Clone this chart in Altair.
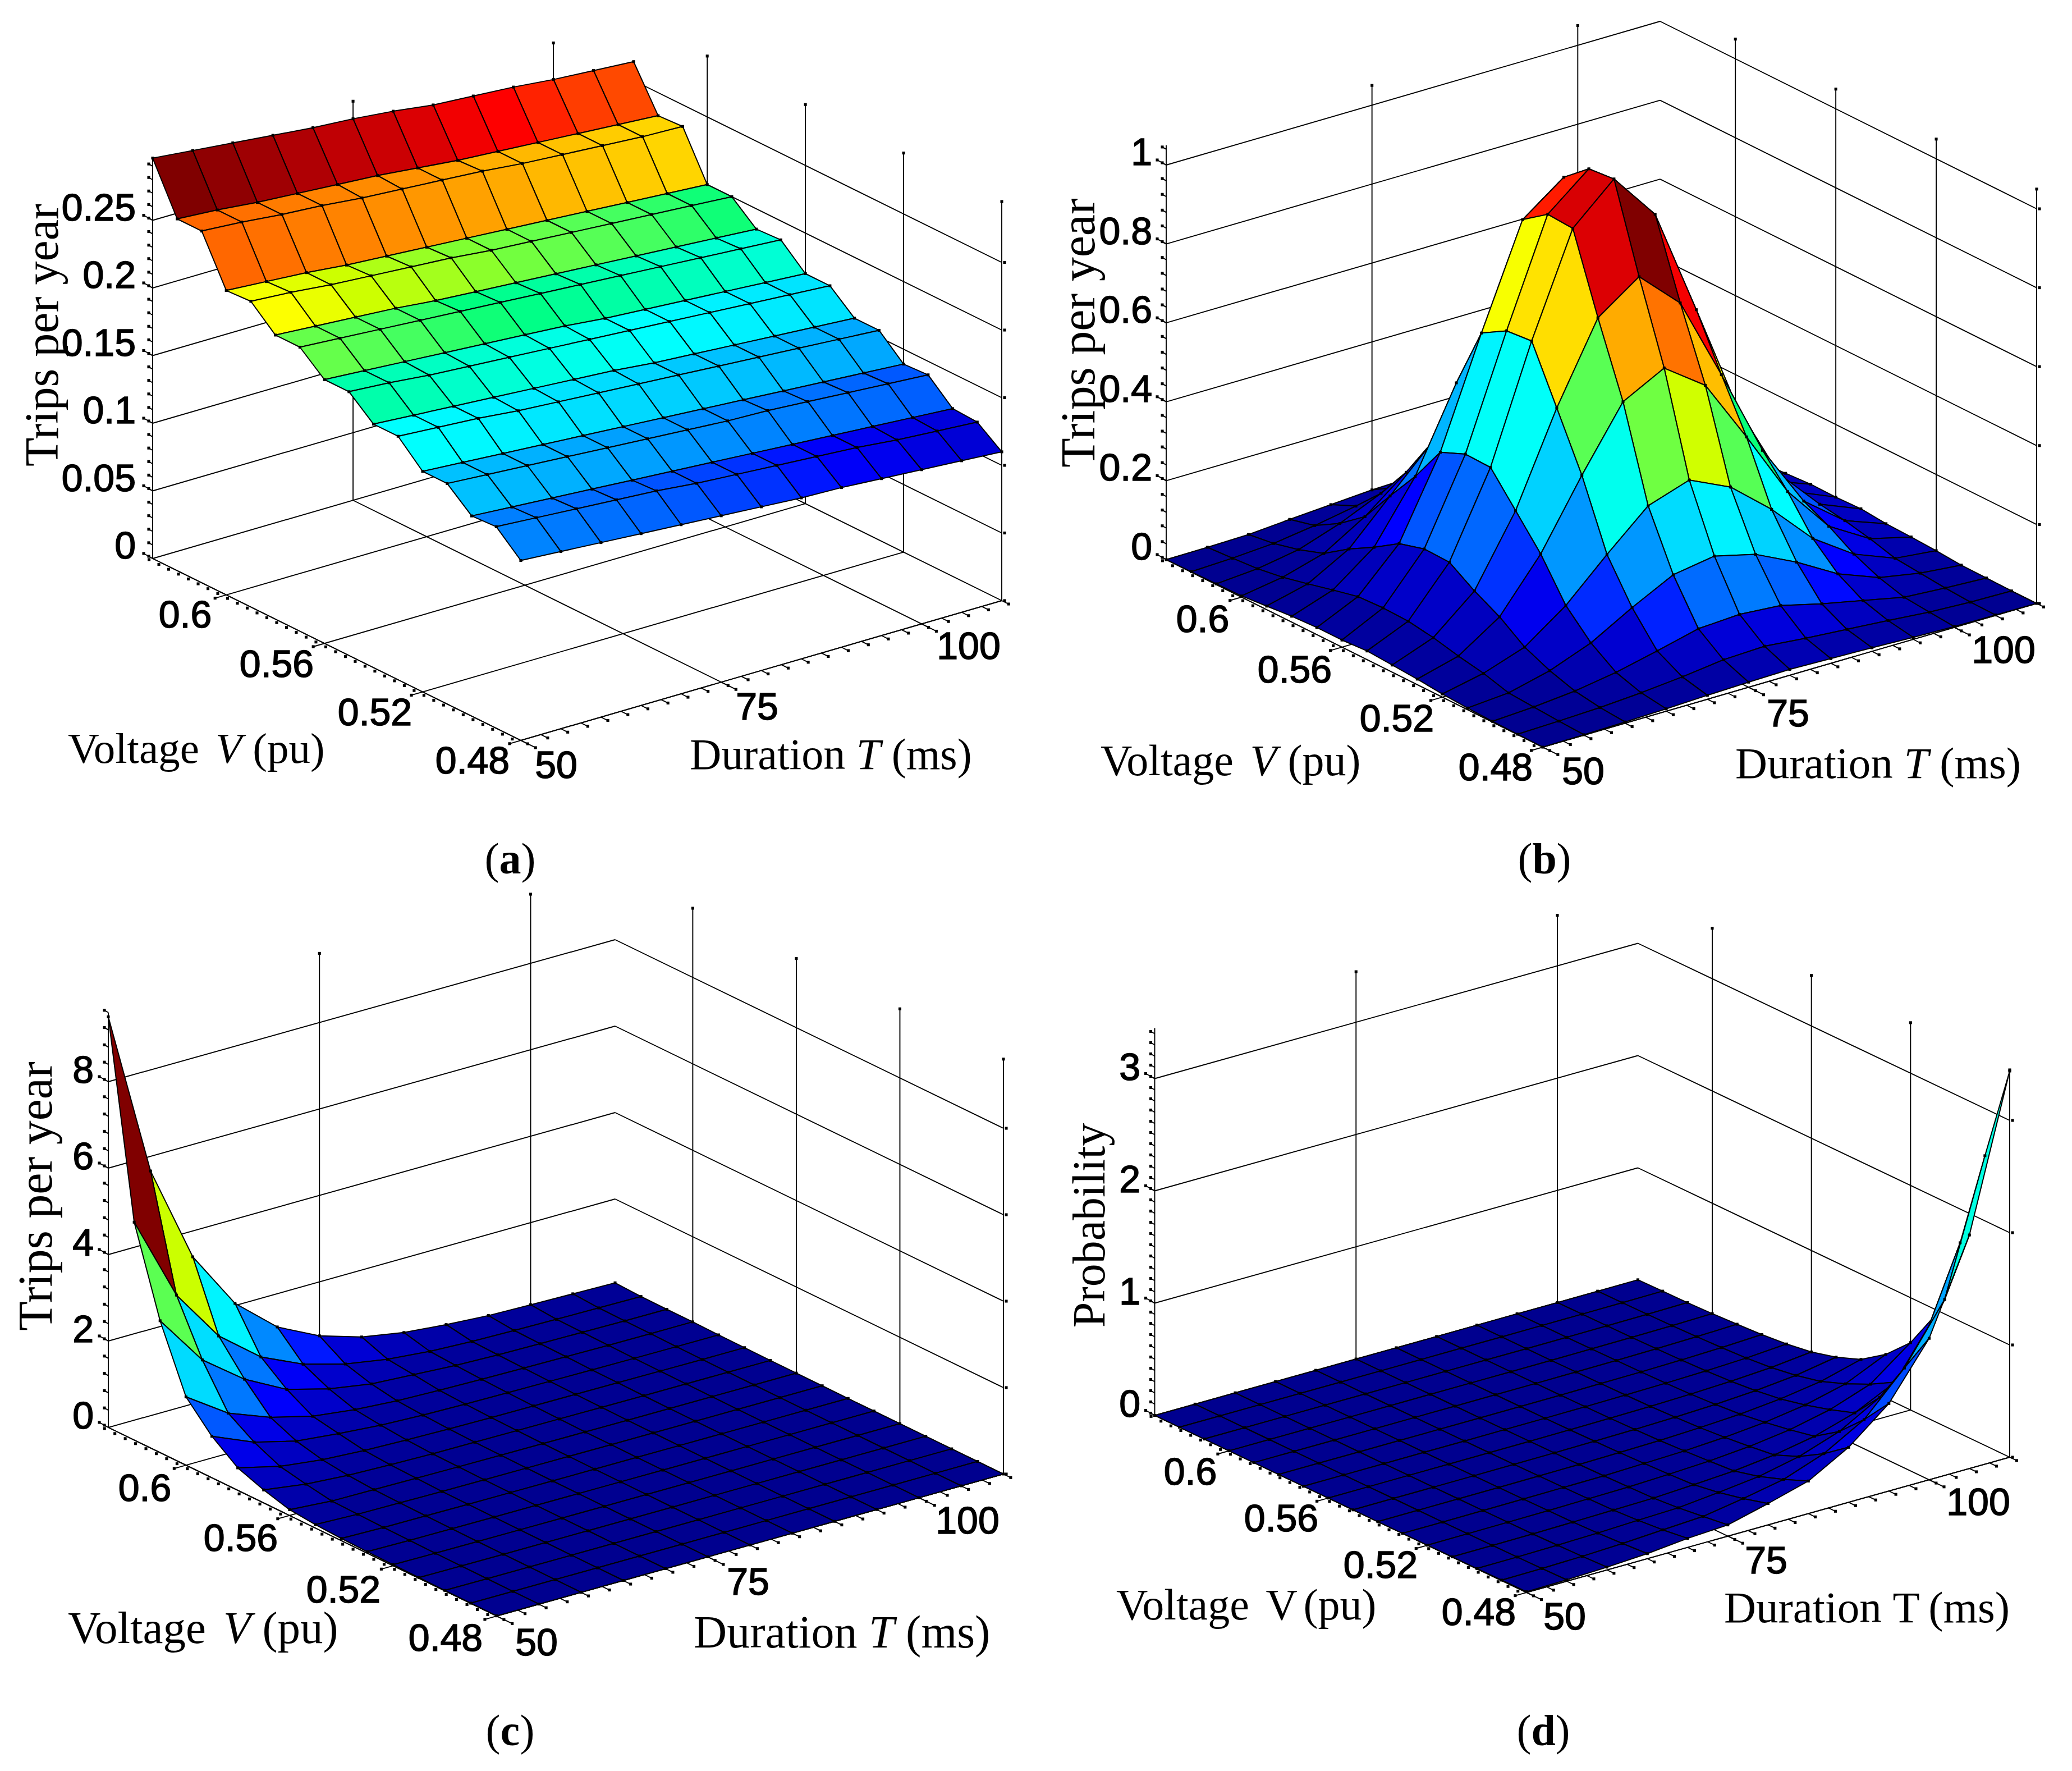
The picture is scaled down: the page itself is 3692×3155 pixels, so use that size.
import altair as alt
import pandas as pd

alt.data_transformers.disable_max_rows()

# ---- surface values: rows V = 0.63 ... 0.48, columns T = 50, 55, ... 110
V_GRID = [0.63, 0.62, 0.61, 0.60, 0.59, 0.58, 0.57, 0.56, 0.55, 0.54, 0.53, 0.52, 0.51, 0.50, 0.49, 0.48]
T_GRID = [50, 55, 60, 65, 70, 75, 80, 85, 90, 95, 100, 105, 110]

Z_A = [
    [.296, .293, .290, .287, .284, .282, .279, .275, .273, .271, .268, .266, .264],
    [.260, .258, .255, .253, .251, .249, .246, .243, .241, .239, .237, .235, .233],
    [.260, .258, .255, .253, .250, .248, .246, .244, .241, .239, .237, .235, .234],
    [.225, .223, .221, .218, .216, .214, .212, .210, .208, .206, .204, .202, .200],
    [.226, .224, .221, .219, .217, .215, .212, .210, .208, .206, .204, .202, .200],
    [.210, .208, .206, .204, .201, .199, .197, .195, .193, .191, .189, .187, .185],
    [.210, .208, .206, .204, .202, .200, .198, .196, .194, .192, .190, .188, .186],
    [.195, .193, .191, .189, .187, .185, .183, .180, .178, .176, .174, .172, .170],
    [.195, .193, .190, .188, .186, .184, .182, .180, .178, .176, .174, .172, .170],
    [.180, .178, .176, .174, .172, .170, .168, .165, .163, .161, .159, .157, .155],
    [.180, .178, .176, .173, .171, .169, .167, .165, .163, .161, .159, .157, .155],
    [.163, .161, .159, .157, .155, .153, .151, .149, .147, .145, .143, .141, .139],
    [.163, .161, .159, .157, .155, .153, .151, .149, .148, .146, .144, .142, .140],
    [.148, .146, .144, .142, .140, .138, .136, .134, .132, .130, .128, .126, .124],
    [.149, .147, .145, .143, .141, .138, .136, .134, .132, .130, .127, .125, .123],
    [.133, .131, .129, .127, .125, .123, .121, .119, .118, .116, .114, .112, .110],
]
Z_B = [
    [.000, .001, .003, .011, .018, .025, .028, .025, .018, .010, .005, .002, .000],
    [.001, .005, .012, .027, .046, .063, .070, .062, .044, .025, .011, .004, .001],
    [.002, .010, .028, .064, .110, .150, .166, .146, .103, .059, .027, .010, .003],
    [.003, .020, .050, .113, .195, .268, .296, .260, .183, .104, .048, .017, .005],
    [.009, .035, .093, .197, .300, .470, .520, .458, .320, .183, .084, .030, .009],
    [.015, .051, .129, .278, .485, .600, .727, .640, .450, .256, .118, .042, .013],
    [.018, .066, .170, .371, .643, .900, .977, .860, .600, .343, .157, .056, .017],
    [.018, .069, .188, .398, .680, .945, 1.030, .915, .640, .366, .168, .060, .016],
    [.022, .067, .186, .396, .686, .941, 1.036, .916, .644, .366, .168, .060, .018],
    [.018, .057, .145, .318, .548, .746, .820, .723, .511, .289, .130, .050, .012],
    [.014, .042, .111, .240, .409, .565, .620, .546, .385, .216, .098, .036, .010],
    [.008, .030, .066, .141, .240, .333, .368, .320, .233, .129, .059, .018, .007],
    [.004, .012, .038, .078, .137, .190, .207, .181, .131, .071, .031, .012, .002],
    [.002, .008, .018, .035, .059, .085, .091, .083, .057, .035, .013, .006, .001],
    [.001, .004, .008, .015, .025, .038, .042, .032, .024, .016, .007, .002, .000],
    [.000, .001, .003, .006, .010, .013, .015, .012, .009, .005, .002, .001, .000],
]
Z_C = [
    [9.5, 5.66, 3.4, 2.05, 1.23, .75, .45, .28, .19, .125, .10, .08, .06],
    [5.04, 3.08, 1.86, 1.10, .66, .39, .225, .134, .09, .07, .055, .045, .035],
    [3.05, 1.87, 1.15, .64, .38, .22, .16, .10, .07, .055, .045, .035, .03],
    [1.58, .93, .56, .31, .19, .12, .09, .07, .055, .045, .035, .03, .03],
    [.96, .55, .30, .20, .12, .08, .06, .05, .04, .03, .025, .02, .02],
    [.52, .28, .16, .10, .07, .05, .04, .035, .03, .025, .02, .015, .015],
    [.30, .16, .09, .06, .04, .035, .03, .025, .02, .015, .015, .012, .01],
    [.135, .06, .05, .04, .03, .025, .02, .015, .012, .01, .01, .008, .008],
    [.08, .045, .035, .025, .02, .018, .015, .012, .01, .008, .007, .006, .006],
    [.05, .03, .025, .018, .015, .012, .01, .009, .007, .006, .005, .005, .004],
    [.035, .022, .018, .014, .011, .009, .008, .006, .005, .005, .004, .004, .003],
    [.025, .016, .013, .01, .008, .007, .006, .005, .004, .004, .003, .003, .003],
    [.018, .012, .009, .007, .006, .005, .004, .004, .003, .003, .002, .002, .002],
    [.012, .008, .007, .005, .004, .004, .003, .003, .002, .002, .002, .002, .001],
    [.008, .006, .005, .004, .003, .003, .002, .002, .002, .001, .001, .001, .001],
    [.005, .004, .003, .003, .002, .002, .002, .001, .001, .001, .001, .001, .001],
]
Z_D = [
    [0, 0, 0, 0, 0, 0, 0, 0, .001, .001, .001, .002, .003],
    [0, 0, 0, 0, 0, 0, 0, .001, .001, .002, .003, .004, .007],
    [0, 0, 0, 0, 0, 0, .001, .001, .001, .002, .004, .006, .010],
    [0, 0, 0, 0, 0, .001, .001, .001, .002, .004, .006, .010, .017],
    [0, 0, 0, 0, .001, .001, .002, .002, .004, .006, .010, .017, .028],
    [0, 0, 0, .001, .001, .001, .002, .003, .006, .009, .015, .025, .041],
    [0, 0, 0, .001, .001, .002, .003, .005, .009, .014, .023, .037, .062],
    [0, 0, .001, .001, .002, .003, .005, .008, .013, .022, .036, .058, .096],
    [0, .001, .001, .002, .003, .005, .009, .013, .022, .035, .057, .093, .155],
    [0, .001, .002, .003, .005, .007, .013, .020, .034, .054, .089, .144, .240],
    [.001, .001, .003, .005, .008, .011, .021, .032, .053, .086, .140, .228, .390],
    [.001, .002, .004, .007, .012, .017, .030, .047, .077, .125, .204, .330, .600],
    [.002, .003, .005, .010, .017, .023, .042, .064, .106, .172, .280, .454, .950],
    [.003, .005, .010, .018, .031, .042, .078, .120, .197, .320, .522, .846, 1.70],
    [.005, .008, .016, .030, .051, .070, .129, .199, .328, .531, .890, 1.40, 2.58],
    [.007, .012, .025, .045, .080, .100, .190, .290, .490, .780, 1.26, 2.08, 3.44],
]

V_TICKS = [0.6, 0.56, 0.52, 0.48]
T_TICKS = [50, 75, 100]
V_TICK_LABELS = ["0.6", "0.56", "0.52", "0.48"]
T_TICK_LABELS = ["50", "75", "100"]

STOPS = [0, .125, .375, .44, .5, .56, .625, .75, .875, 1]
JET = ["#00008f", "#0000ff", "#00ffff", "#00ffbe", "#1eff6e", "#80ff30", "#ffff00", "#ff9000", "#ff0000", "#800000"]

PANELS = [
    dict(name="a", Z=Z_A, L=(272, 995), B=(928, 1319), R=(1785, 1070), unit=2410,
         zt=[0, .05, .1, .15, .2, .25], zl=["0", "0.05", "0.1", "0.15", "0.2", "0.25"], zminor=.01, ztop=.295,
         zlab_x=242, zlab_dy=-20,
         vlab=[(330, 1098), (493, 1186), (668, 1272), (842, 1358)],
         tlab=[(991, 1366), (1349, 1262), (1726, 1154)],
         ylabel="Trips per year", ylab=(78, 597), yfs=84,
         vt=(121, 1359, 77, True), dt=(1229, 1370, 78, True), cap=(909, 1556)),
    dict(name="b", Z=Z_B, L=(2078, 997), B=(2749, 1331), R=(3629, 1075), unit=703,
         zt=[0, .2, .4, .6, .8, 1], zl=["0", "0.2", "0.4", "0.6", "0.8", "1"], zminor=.04, ztop=1.05,
         zlab_x=2053, zlab_dy=-20,
         vlab=[(2143, 1106), (2307, 1196), (2489, 1283), (2665, 1370)],
         tlab=[(2821, 1377), (3186, 1274), (3570, 1161)],
         ylabel="Trips per year", ylab=(1924, 593), yfs=86,
         vt=(1961, 1381, 78, True), dt=(3092, 1386, 79, True), cap=(2752, 1556)),
    dict(name="c", Z=Z_C, L=(193, 2543), B=(885, 2879), R=(1788, 2626), unit=77,
         zt=[0, 2, 4, 6, 8], zl=["0", "2", "4", "6", "8"], zminor=.4, ztop=9.6,
         zlab_x=167, zlab_dy=-18,
         vlab=[(258, 2654), (429, 2743), (612, 2835), (794, 2921)],
         tlab=[(956, 2929), (1333, 2821), (1724, 2712)],
         ylabel="Trips per year", ylab=(66, 2131), yfs=86,
         vt=(121, 2927, 81, True), dt=(1236, 2935, 82, True), cap=(909, 3109)),
    dict(name="d", Z=Z_D, L=(2057.5, 2521.5), B=(2720, 2837), R=(3581, 2596), unit=200,
         zt=[0, 1, 2, 3], zl=["0", "1", "2", "3"], zminor=.1, ztop=3.45,
         zlab_x=2032, zlab_dy=-18,
         vlab=[(2121, 2625), (2283, 2708), (2460, 2791), (2635, 2875)],
         tlab=[(2788, 2883), (3147, 2783), (3525, 2679)],
         ylabel="Probability", ylab=(1943, 2183), yfs=82,
         vt=(1989, 2885, 78, False), dt=(3072, 2890, 79, False), cap=(2750, 3109)),
]

polys, segs, dots = [], [], []
sans, serif, serif_i, serif_b, serif_r = [], [], [], [], []
pid = [0]


def add_seg(p, q):
    pid[0] += 1
    segs.append(dict(id=pid[0], k=0, x=p[0] - 8, y=p[1] - 8))
    segs.append(dict(id=pid[0], k=1, x=q[0] - 8, y=q[1] - 8))


def add_dot(p):
    dots.append(dict(x=p[0] - 8, y=p[1] - 8))


def in_quad(p, q):
    inside = False
    for a in range(4):
        x1, y1 = q[a]
        x2, y2 = q[(a + 1) % 4]
        if (y1 > p[1]) != (y2 > p[1]) and p[0] < x1 + (p[1] - y1) * (x2 - x1) / (y2 - y1):
            inside = not inside
    return inside


for P in PANELS:
    L, B, R, unit = P["L"], P["B"], P["R"], P["unit"]
    Vx, Vy = B[0] - L[0], B[1] - L[1]
    Tx, Ty = R[0] - B[0], R[1] - B[1]

    def proj(v, t, z=0):
        a, b = (0.63 - v) / 0.15, (t - 50) / 60
        return (L[0] + a * Vx + b * Tx, L[1] + a * Vy + b * Ty - z * unit)

    ztop = P["ztop"]
    for v in V_TICKS:
        add_seg(proj(v, 50 - 1.4), proj(v, 110))
        add_dot(proj(v, 50 - 1.4))
    for t in T_TICKS:
        add_seg(proj(0.63, t), proj(0.48 - 0.006, t))
        add_dot(proj(0.48 - 0.006, t))
    for t in T_TICKS[1:]:
        add_seg(proj(0.63, t), proj(0.63, t, ztop))
        add_dot(proj(0.63, t, ztop))
    for v in V_TICKS[:-1]:
        add_seg(proj(v, 110), proj(v, 110, ztop))
        add_dot(proj(v, 110, ztop))
    add_seg(proj(0.63, 50), proj(0.48, 50))
    add_seg(proj(0.48, 50), proj(0.48, 110))
    add_seg(proj(0.63, 50), proj(0.63, 50, ztop))
    add_seg(proj(0.48, 110), proj(0.48, 110, ztop))
    add_dot(proj(0.48, 110, ztop))
    for z in P["zt"]:
        add_seg(proj(0.63, 50, z), proj(0.63, 110, z))
        add_seg(proj(0.63, 110, z), proj(0.48, 110, z))
        a = proj(0.63, 50, z)
        e = (a[0] - 16, a[1] - 9)
        add_seg(a, e)
        add_dot(e)
        add_dot((proj(0.48, 110, z)[0] + 5, proj(0.48, 110, z)[1]))
    n = int(round(ztop / P["zminor"]))
    for q in range(n + 1):
        a = proj(0.63, 50, q * P["zminor"])
        add_seg(a, (a[0] - 7, a[1] - 4))
        add_dot((a[0] - 7, a[1] - 4))
    for q in range(38):
        v = 0.63 - q * 0.004
        a = proj(v, 50 - 0.45)
        add_dot(a)
    for q in range(25):
        t = 50 + q * 2.5
        a = proj(0.48 - 0.0028, t)
        add_seg(proj(0.48, t), a)
        add_dot(a)

    Z = P["Z"]
    flat = [z for row in Z for z in row]
    zmin, zmax = min(flat), max(flat)
    cells = []
    for i in range(15):
        for j in range(12):
            corners = [(i, j), (i, j + 1), (i + 1, j + 1), (i + 1, j)]
            pts = [proj(V_GRID[a], T_GRID[b], Z[a][b]) for a, b in corners]
            depth = proj(V_GRID[i] - .005, T_GRID[j] + 2.5)[1]
            cells.append((depth, i, j, corners, pts))
    cells.sort(key=lambda c: c[0])
    for order, (depth, i, j, corners, pts) in enumerate(cells):
        pid[0] += 1
        c = (Z[i][j] - zmin) / (zmax - zmin)
        for k, p in enumerate(pts):
            polys.append(dict(id=pid[0], k=k, x=p[0] - 8, y=p[1] - 8, c=c))
    for a in range(16):
        for b in range(13):
            p = proj(V_GRID[a], T_GRID[b], Z[a][b])
            hidden = False
            for (depth, i, j, corners, pts) in cells:
                if (a, b) in corners:
                    continue
                if depth > proj(V_GRID[a], T_GRID[b])[1] and in_quad(p, pts):
                    hidden = True
                    break
            if not hidden:
                add_dot(p)

    for z, lab in zip(P["zt"], P["zl"]):
        sans.append(dict(x=P["zlab_x"] - 8, y=proj(0.63, 50, z)[1] + P["zlab_dy"] - 8, t=lab, a="right", fs=68))
    for (x, y), lab in zip(P["vlab"], V_TICK_LABELS):
        sans.append(dict(x=x - 8, y=y - 8, t=lab, a="center", fs=68))
    for (x, y), lab in zip(P["tlab"], T_TICK_LABELS):
        sans.append(dict(x=x - 8, y=y - 8, t=lab, a="center", fs=68))
    serif_r.append(dict(x=P["ylab"][0] - 8, y=P["ylab"][1] - 8, t=P["ylabel"], fs=P["yfs"]))

    x0, y0, fs, ital = P["vt"]
    serif.append(dict(x=x0 - 8, y=y0 - 8, t="Voltage", fs=fs))
    (serif_i if ital else serif).append(dict(x=x0 + 3.416 * fs - 8, y=y0 - 8, t="V", fs=fs))
    serif.append(dict(x=x0 + 4.277 * fs - 8, y=y0 - 8, t="(pu)", fs=fs))
    x0, y0, fs, ital = P["dt"]
    serif.append(dict(x=x0 - 8, y=y0 - 8, t="Duration", fs=fs))
    (serif_i if ital else serif).append(dict(x=x0 + 3.805 * fs - 8, y=y0 - 8, t="T", fs=fs))
    serif.append(dict(x=x0 + 4.611 * fs - 8, y=y0 - 8, t="(ms)", fs=fs))
    cx, cy = P["cap"]
    w = {"a": 39, "b": 43, "c": 35, "d": 43}[P["name"]]
    serif.append(dict(x=cx - w / 2 - 26 - 8, y=cy - 8, t="(", fs=78))
    serif_b.append(dict(x=cx - w / 2 - 8, y=cy - 8, t=P["name"], fs=78))
    serif.append(dict(x=cx + w / 2 - 8, y=cy - 8, t=")", fs=78))

W, H = 3676, 3139
X = alt.X("x:Q", scale=alt.Scale(domain=[0, W], nice=False, zero=False), axis=None)
Y = alt.Y("y:Q", scale=alt.Scale(domain=[H, 0], nice=False, zero=False), axis=None)

grid = alt.Chart(pd.DataFrame(segs)).mark_line(stroke="black", strokeWidth=1.9).encode(
    x=X, y=Y, detail="id:N", order="k:Q")
surf = alt.Chart(pd.DataFrame(polys)).mark_line(
    interpolate="linear-closed", stroke="black", strokeWidth=2, strokeJoin="round").encode(
    x=X, y=Y, detail="id:N", order="k:Q",
    fill=alt.Fill("c:Q", scale=alt.Scale(domain=STOPS, range=JET, clamp=True), legend=None))
dot = alt.Chart(pd.DataFrame(dots)).mark_square(size=26, color="black", opacity=1).encode(x=X, y=Y)

SZ = alt.Size("fs:Q", scale=None, legend=None)
tick_r = alt.Chart(pd.DataFrame([s for s in sans if s["a"] == "right"])).mark_text(
    font="Liberation Sans", stroke="black", strokeWidth=1.6, align="right", baseline="middle", color="black").encode(x=X, y=Y, text="t:N", size=SZ)
tick_c = alt.Chart(pd.DataFrame([s for s in sans if s["a"] == "center"])).mark_text(
    font="Liberation Sans", stroke="black", strokeWidth=1.6, align="center", baseline="middle", color="black").encode(x=X, y=Y, text="t:N", size=SZ)
txt = alt.Chart(pd.DataFrame(serif)).mark_text(
    font="Liberation Serif", align="left", baseline="alphabetic", color="black").encode(x=X, y=Y, text="t:N", size=SZ)
txt_i = alt.Chart(pd.DataFrame(serif_i)).mark_text(
    font="Liberation Serif", fontStyle="italic", align="left", baseline="alphabetic", color="black").encode(x=X, y=Y, text="t:N", size=SZ)
txt_b = alt.Chart(pd.DataFrame(serif_b)).mark_text(
    font="Liberation Serif", fontWeight="bold", align="left", baseline="alphabetic", color="black").encode(x=X, y=Y, text="t:N", size=SZ)
txt_r = alt.Chart(pd.DataFrame(serif_r)).mark_text(
    font="Liberation Serif", angle=270, align="center", baseline="middle", color="black").encode(x=X, y=Y, text="t:N", size=SZ)

chart = alt.layer(grid, surf, dot, tick_r, tick_c, txt, txt_i, txt_b, txt_r).resolve_scale(
    fill="independent"
).properties(
    width=W, height=H, padding=0, autosize=alt.AutoSizeParams(type="none"),
    background="white"
).configure_view(stroke=None)

chart.save("out.html", embed_options={"renderer": "svg", "actions": False})
